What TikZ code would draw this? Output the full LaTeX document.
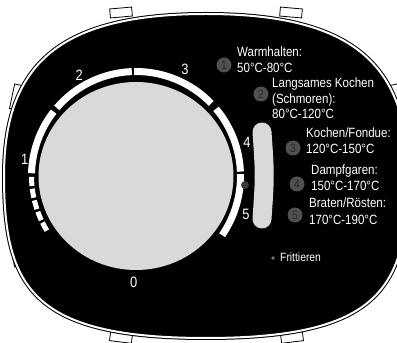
\documentclass[tikz,border=0pt]{standalone}
\usepackage{fontspec}
\setmainfont{Liberation Sans}[FakeStretch=0.86]
\usetikzlibrary{calc}
\definecolor{dialgray}{HTML}{D9D9D9}
\definecolor{numgray}{HTML}{505050}
\definecolor{numtext}{HTML}{2A2A2A}
\definecolor{dotgray}{HTML}{3A3A3A}
\definecolor{fritgray}{HTML}{707070}
\begin{document}
\begin{tikzpicture}[x=1pt,y=1pt,
  lbl/.style={text=white, font=\fontsize{15}{15}\selectfont, inner sep=0pt},
  txt/.style={text=white, font=\fontsize{13.4}{15}\selectfont, inner sep=0pt, anchor=base west},
  smalltxt/.style={text=white, font=\fontsize{12}{14}\selectfont, inner sep=0pt, anchor=base west},
  numc/.style={circle, fill=numgray, text=numtext, minimum size=15pt, inner sep=0pt, font=\fontsize{12}{12}\selectfont},
  ringseg/.style={white, line width=7pt},
  dashseg/.style={white, line width=5pt},
  tab/.style={draw=black, fill=white, line width=0.8pt, inner sep=0pt, minimum width=22pt, minimum height=9pt},
  vtab/.style={tab, minimum width=8pt, minimum height=25pt}]
\useasboundingbox (0,0) rectangle (397,343);
\fill[white] (0,0) rectangle (397,343);
% tabs
\node[tab, rotate=5] (ttl) at (121,330.5) {};
\node[tab, rotate=-5] (ttr) at (291,330.5) {};
\node[tab, rotate=-7] (tbl) at (121,5.5) {};
\node[tab, rotate=7] (tbr) at (292,5.5) {};
\node[vtab, rotate=-12] (tlu) at (16,246) {};
\node[vtab, rotate=12] (tll) at (16,89) {};
\node[vtab, rotate=12] (tru) at (396,246) {};
\node[vtab, rotate=-12] (trl) at (396,89) {};
% body
\path[fill=black, draw=black, line width=1pt, double=white, double distance=2pt]
  (4,167) .. controls (4,280) and (61,329) .. (206,329)
  .. controls (351,329) and (408,280) .. (408,167)
  .. controls (408,54) and (378,5) .. (206,5)
  .. controls (34,5) and (4,54) .. cycle;
% dial
\coordinate (c) at (136,167);
\fill[dialgray] (c) ellipse [x radius=97.5, y radius=94];
\foreach \a/\b in {-34.5/1, 2.4/40, 44/91, 92.3/139.3, 142/178.5}
  \draw[ringseg] ($(c)+(\a:104.5)$) arc[start angle=\a, end angle=\b, radius=104.5];
\foreach \a/\b in {180.5/185.5, 187/192, 193.5/198.5, 200/205, 206.5/211.5}
  \draw[dashseg] ($(c)+(\a:104.5)$) arc[start angle=\a, end angle=\b, radius=104.5];
\fill[dotgray] (245,158) circle[radius=4];
% pill
\draw[dialgray, line width=19pt, line cap=round] (262,211) .. controls (265,167.5) .. (262,124);
% dial labels
\node[lbl] (l0) at (133.7,60.7) {0};
\node[lbl] (l1) at (24.7,183.7) {1};
\node[lbl] (l2) at (79.3,268) {2};
\node[lbl] (l3) at (185,274) {3};
\node[lbl] (l4) at (247,201) {4};
\node[lbl] (l5) at (246,129) {5};
% numbered circles
\node[numc] (n1) at (224,278) {1};
\node[numc] (n2) at (261,249) {2};
\node[numc] (n3) at (293,195) {3};
\node[numc] (n4) at (297,159) {4};
\node[numc] (n5) at (295,128) {5};
% texts
\node[txt] (a1) at (237,286) {Warmhalten:};
\node[txt] (a2) at (237,270) {50°C-80°C};
\node[txt] (b1) at (272,255) {Langsames Kochen};
\node[txt] (b2) at (272,239) {(Schmoren):};
\node[txt] (b3) at (272,224) {80°C-120°C};
\node[txt] (c1) at (306,205) {Kochen/Fondue:};
\node[txt] (c2) at (306,189) {120°C-150°C};
\node[txt] (d1) at (311,168) {Dampfgaren:};
\node[txt] (d2) at (311,152) {150°C-170°C};
\node[txt] (e1) at (309,135) {Braten/Rösten:};
\node[txt] (e2) at (309,118) {170°C-190°C};
\fill[fritgray] (273,85) circle[radius=1.8];
\node[smalltxt] (f1) at (280,81) {Frittieren};
\end{tikzpicture}
\end{document}
